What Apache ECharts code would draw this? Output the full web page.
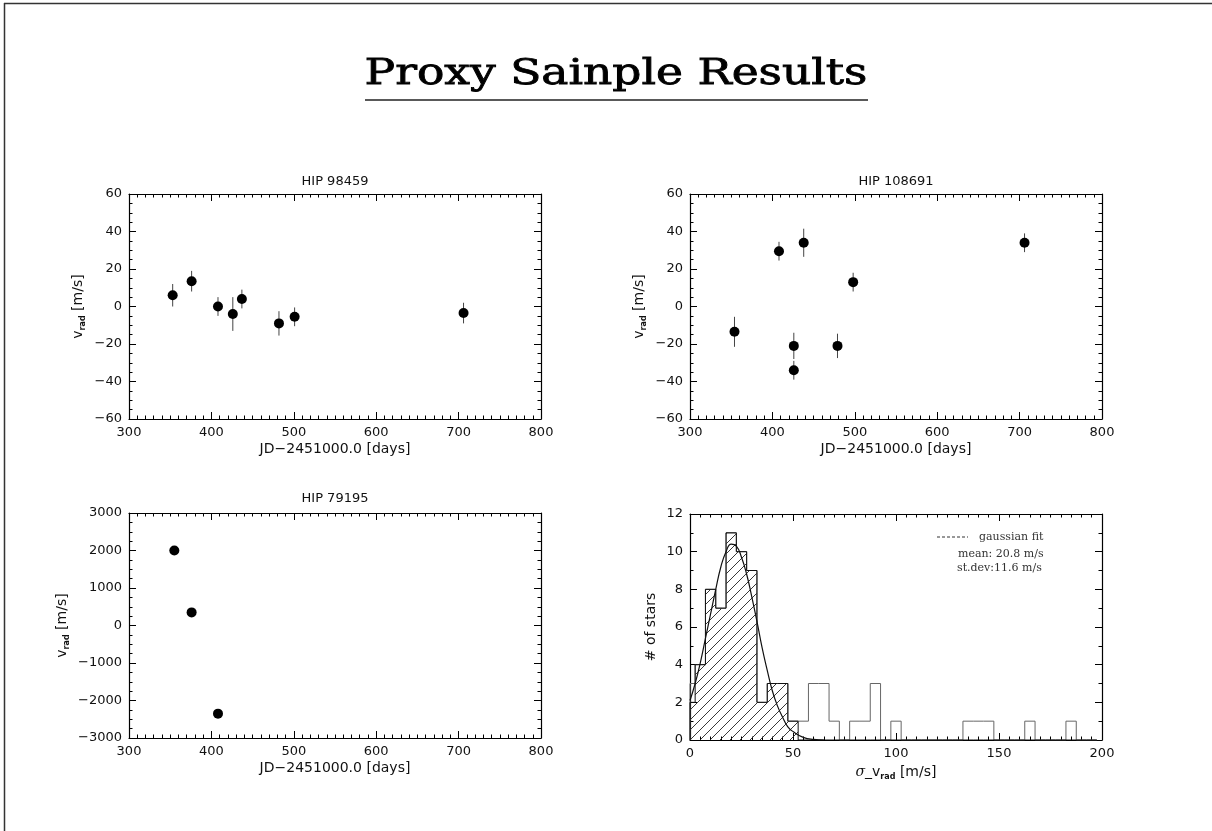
<!DOCTYPE html>
<html>
<head>
<meta charset="utf-8">
<script src="https://cdn.jsdelivr.net/npm/echarts@6/dist/echarts.min.js"></script>
<style>
html, body { margin: 0; padding: 0; background: #fff; }
#chart { width: 1212px; height: 831px; }
</style>
</head>
<body>
<div id="chart"></div>
<script>
// HIP 98459
const hip98459Days = [353, 376, 408, 426, 437, 482, 501, 706];
const hip98459Vrad = [6, 13.5, 0, -4, 4, -9, -5.5, -3.5];
const hip98459Err = [6, 5.5, 5, 9, 5, 6.5, 5, 5.5];

// HIP 108691
const hip108691Days = [354, 408, 426, 426, 438, 479, 498, 706];
const hip108691Vrad = [-13.5, 29.5, -21, -34, 34, -21, 13, 34];
const hip108691Err = [8, 5, 7, 5, 7.5, 6.5, 5, 5];

// HIP 79195
const hip79195Days = [355, 376, 408];
const hip79195Vrad = [2000, 350, -2350];

// histogram of sigma_vrad, bins of 5 m/s
const binCenters = [0, 5, 10, 15, 20, 25, 30, 35, 40, 45, 50, 55, 60, 65, 70, 75, 80, 85, 90, 95,
  100, 105, 110, 115, 120, 125, 130, 135, 140, 145, 150, 155, 160, 165, 170, 175, 180, 185, 190, 195];
const allCounts = [3, 4, 8, 7, 11, 10, 9, 2, 3, 3, 1, 1, 3, 3, 1, 0, 1, 1, 3, 0,
  1, 0, 0, 0, 0, 0, 0, 1, 1, 1, 0, 0, 0, 1, 0, 0, 0, 1, 0, 0];
const hatchedCounts = [2, 4, 8, 7, 11, 10, 9, 2, 3, 3, 1, 0, 0, 0, 0, 0, 0, 0, 0, 0,
  0, 0, 0, 0, 0, 0, 0, 0, 0, 0, 0, 0, 0, 0, 0, 0, 0, 0, 0, 0];
const binWidth = 5;

// gaussian fit curve
const gaussX = [0, 2.5, 5, 7.5, 10, 12.5, 15, 17.5, 20, 22.5, 25, 27.5, 30, 32.5, 35, 37.5, 40, 42.5, 45, 47.5, 50, 55, 60, 65];
const gaussY = [2.1, 3.0, 4.1, 5.4, 6.7, 8.0, 9.2, 10.0, 10.4, 10.3, 9.7, 8.8, 7.6, 6.3, 4.9, 3.7, 2.6, 1.8, 1.2, 0.7, 0.45, 0.14, 0.03, 0];

const chart = echarts.init(document.getElementById('chart'));

const hatch = document.createElement('canvas');
hatch.width = 10;
hatch.height = 10;
const hctx = hatch.getContext('2d');
hctx.strokeStyle = '#222';
hctx.lineWidth = 0.9;
hctx.beginPath();
hctx.moveTo(-1, 11); hctx.lineTo(11, -1);
hctx.moveTo(-1, 1); hctx.lineTo(1, -1);
hctx.moveTo(9, 11); hctx.lineTo(11, 9);
hctx.stroke();

const minus = v => String(v).replace('-', '\u2212');
const tickFont = { color: '#111', fontFamily: 'DejaVu Sans', fontSize: 13 };

function stepData(counts) {
  const pts = [[0, 0]];
  binCenters.forEach((c, i) => pts.push([Math.max(0, c - binWidth / 2), counts[i]]));
  pts.push([binCenters[binCenters.length - 1] + binWidth / 2, 0]);
  return pts;
}

function pairAxes(grid, kind, min, max, interval, minor, opts) {
  const common = {
    type: 'value', gridIndex: grid, min: min, max: max, interval: interval,
    splitLine: { show: false },
    axisLine: { show: true, onZero: false, lineStyle: { color: '#000', width: 1.2 } },
    axisTick: { show: true, inside: true, length: 7, lineStyle: { color: '#000', width: 1 } },
    minorTick: { show: true, splitNumber: minor, length: 3.5, lineStyle: { color: '#000', width: 1 } }
  };
  const main = Object.assign({}, common, {
    position: kind === 'x' ? 'bottom' : 'left',
    axisLabel: Object.assign({ margin: 7, formatter: minus }, tickFont)
  }, opts);
  const other = Object.assign({}, common, {
    position: kind === 'x' ? 'top' : 'right',
    axisLabel: { show: false }
  });
  return [main, other];
}

const vradName = {
  name: '{v|v}{s|rad} [m/s]',
  nameLocation: 'middle',
  nameRotate: 90,
  nameTextStyle: {
    color: '#111', fontFamily: 'DejaVu Sans', fontSize: 14, lineHeight: 18,
    rich: {
      v: { fontFamily: 'DejaVu Sans', fontSize: 14, lineHeight: 18, color: '#111' },
      s: { fontFamily: 'DejaVu Sans', fontSize: 8, fontWeight: 'bold', lineHeight: 18, verticalAlign: 'bottom', color: '#111' }
    }
  }
};
const jdName = {
  name: 'JD\u22122451000.0 [days]',
  nameLocation: 'middle',
  nameGap: 23,
  nameTextStyle: { color: '#111', fontFamily: 'DejaVu Sans', fontSize: 14 }
};

const xAxes = [].concat(
  pairAxes(0, 'x', 300, 800, 100, 10, jdName),
  pairAxes(1, 'x', 300, 800, 100, 10, jdName),
  pairAxes(2, 'x', 300, 800, 100, 10, jdName),
  pairAxes(3, 'x', 0, 200, 50, 10, {
    name: '{g|\u03c3}_v{s|rad} [m/s]',
    nameLocation: 'middle',
    nameGap: 23,
    nameTextStyle: {
      color: '#111', fontFamily: 'DejaVu Sans', fontSize: 14, lineHeight: 18,
      rich: {
        g: { fontFamily: 'DejaVu Serif', fontStyle: 'italic', fontSize: 14, lineHeight: 18, color: '#111' },
        s: { fontFamily: 'DejaVu Sans', fontSize: 8, fontWeight: 'bold', lineHeight: 18, verticalAlign: 'bottom', color: '#111' }
      }
    }
  })
);
const yAxes = [].concat(
  pairAxes(0, 'y', -60, 60, 20, 4, Object.assign({ nameGap: 42 }, vradName)),
  pairAxes(1, 'y', -60, 60, 20, 4, Object.assign({ nameGap: 42 }, vradName)),
  pairAxes(2, 'y', -3000, 3000, 1000, 4, Object.assign({ nameGap: 58 }, vradName)),
  pairAxes(3, 'y', 0, 12, 2, 2, {
    name: '# of stars', nameLocation: 'middle', nameRotate: 90, nameGap: 32,
    nameTextStyle: { color: '#111', fontFamily: 'DejaVu Sans', fontSize: 14 }
  })
);

function errorBars(axis, days, vrad, err) {
  return {
    type: 'custom', xAxisIndex: axis, yAxisIndex: axis,
    data: days.map((d, i) => [d, vrad[i], err[i]]),
    encode: { x: 0, y: 1 },
    renderItem: function (params, api) {
      const x = api.value(0), y = api.value(1), e = api.value(2);
      const p1 = api.coord([x, y - e]);
      const p2 = api.coord([x, y + e]);
      return {
        type: 'line',
        shape: { x1: p1[0], y1: p1[1], x2: p2[0], y2: p2[1] },
        style: { stroke: '#444', lineWidth: 1 }
      };
    },
    silent: true
  };
}

function dots(axis, days, vrad) {
  return {
    type: 'scatter', xAxisIndex: axis, yAxisIndex: axis,
    data: days.map((d, i) => [d, vrad[i]]),
    symbol: 'circle', symbolSize: 10,
    itemStyle: { color: '#000', opacity: 1 },
    z: 3
  };
}

const option = {
  animation: false,
  backgroundColor: '#fff',
  grid: [
    { left: 129, top: 194, width: 412, height: 225 },
    { left: 690, top: 194, width: 412, height: 225 },
    { left: 129, top: 513, width: 412, height: 225 },
    { left: 690, top: 514, width: 412, height: 226 }
  ],
  xAxis: xAxes,
  yAxis: yAxes,
  graphic: [
    { type: 'line', shape: { x1: 4.5, y1: 3, x2: 4.5, y2: 831 }, style: { stroke: '#333', lineWidth: 1.5 } },
    { type: 'line', shape: { x1: 4, y1: 3.5, x2: 1212, y2: 3.5 }, style: { stroke: '#333', lineWidth: 1.5 } },
    {
      type: 'text', x: 616, y: 75, scaleX: 1.3,
      style: {
        text: 'Proxy Sainple Results', font: '35px "DejaVu Serif"', fill: '#000',
        stroke: '#000', lineWidth: 0.8, textAlign: 'center', textVerticalAlign: 'middle'
      }
    },
    { type: 'line', shape: { x1: 365, y1: 100, x2: 868, y2: 100 }, style: { stroke: '#222', lineWidth: 1.5 } },
    { type: 'text', x: 335, y: 182, style: { text: 'HIP 98459', font: '13px "DejaVu Sans"', fill: '#111', textAlign: 'center', textVerticalAlign: 'middle' } },
    { type: 'text', x: 896, y: 182, style: { text: 'HIP 108691', font: '13px "DejaVu Sans"', fill: '#111', textAlign: 'center', textVerticalAlign: 'middle' } },
    { type: 'text', x: 335, y: 499, style: { text: 'HIP 79195', font: '13px "DejaVu Sans"', fill: '#111', textAlign: 'center', textVerticalAlign: 'middle' } },
    { type: 'line', shape: { x1: 937, y1: 537, x2: 968, y2: 537 }, style: { stroke: '#333', lineWidth: 1, lineDash: [3, 2] } },
    { type: 'text', x: 979, y: 537, style: { text: 'gaussian fit', font: '11px "DejaVu Serif"', fill: '#333', textAlign: 'left', textVerticalAlign: 'middle' } },
    { type: 'text', x: 958, y: 554, style: { text: 'mean: 20.8 m/s', font: '11px "DejaVu Serif"', fill: '#333', textAlign: 'left', textVerticalAlign: 'middle' } },
    { type: 'text', x: 957, y: 568, style: { text: 'st.dev:11.6 m/s', font: '11px "DejaVu Serif"', fill: '#333', textAlign: 'left', textVerticalAlign: 'middle' } }
  ],
  series: [
    errorBars(0, hip98459Days, hip98459Vrad, hip98459Err),
    dots(0, hip98459Days, hip98459Vrad),
    errorBars(2, hip108691Days, hip108691Vrad, hip108691Err),
    dots(2, hip108691Days, hip108691Vrad),
    dots(4, hip79195Days, hip79195Vrad),
    {
      type: 'line', xAxisIndex: 6, yAxisIndex: 6, step: 'end', symbol: 'none',
      data: stepData(allCounts),
      lineStyle: { color: '#666', width: 1 }
    },
    {
      type: 'line', xAxisIndex: 6, yAxisIndex: 6, step: 'end', symbol: 'none',
      data: stepData(hatchedCounts),
      lineStyle: { color: '#111', width: 1 },
      areaStyle: { color: { image: hatch, repeat: 'repeat' }, opacity: 1 }
    },
    {
      type: 'line', xAxisIndex: 6, yAxisIndex: 6, symbol: 'none', smooth: true,
      data: gaussX.map((x, i) => [x, gaussY[i]]),
      lineStyle: { color: '#111', width: 1.2 }
    }
  ]
};

chart.setOption(option);
</script>
</body>
</html>
